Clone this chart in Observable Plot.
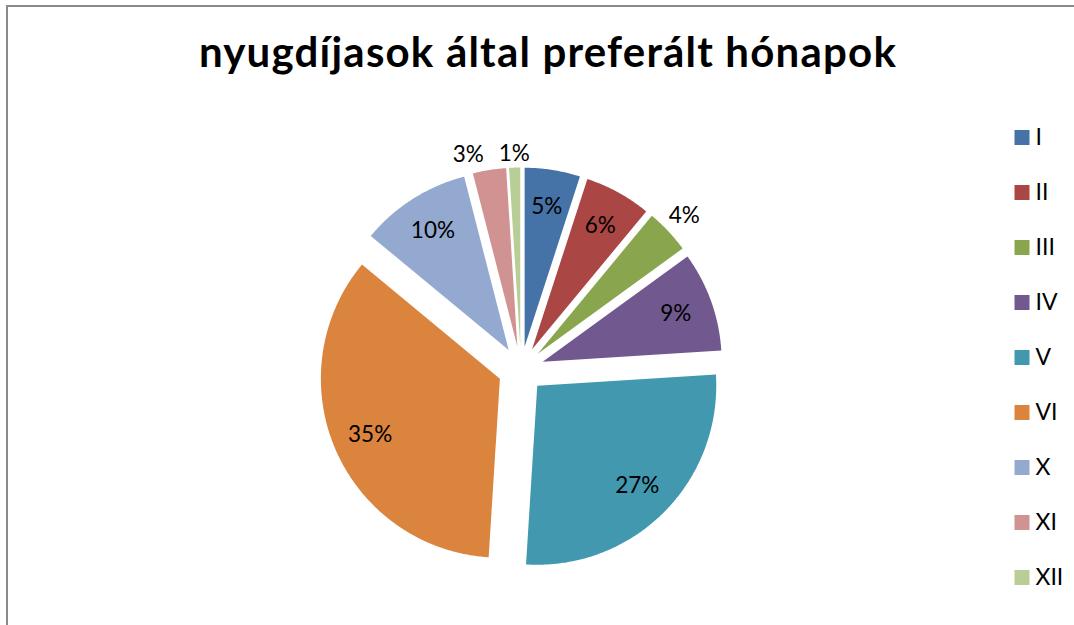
<!DOCTYPE html>
<html>
<head>
<meta charset="utf-8">
<script src="https://cdn.jsdelivr.net/npm/d3@7"></script>
<script src="https://cdn.jsdelivr.net/npm/@observablehq/plot@0.6"></script>
<style>
  html, body { margin: 0; padding: 0; background: #fff; width: 1074px; height: 625px; overflow: hidden; }
  #wrap { position: relative; width: 1074px; height: 625px; overflow: hidden; }
  #border { position: absolute; left: 6px; top: 5px; width: 1200px; height: 800px;
            border-left: 2px solid #898989; border-top: 2px solid #898989; box-sizing: border-box; }
  #title { position: absolute; left: 0; top: 30px; width: 1096px; text-align: center;
           font-family: Lato, "Open Sans", sans-serif; font-weight: bold; font-size: 42px; line-height: 42px;
           letter-spacing: 1.2px; color: #000; white-space: nowrap; }
  .layer { position: absolute; left: 0; top: 0; }
</style>
</head>
<body>
<div id="wrap">
  <div id="border"></div>
  <div id="title"></div>
  <div id="pie" class="layer"></div>
  <div id="legend" class="layer"></div>
</div>
<script>
// ---- data ----
const chartTitle = "nyugdíjasok által preferált hónapok";
const months = ["I", "II", "III", "IV", "V", "VI", "X", "XI", "XII"];
const shares = [5, 6, 4, 9, 27, 35, 10, 3, 1];
const colors = ["#4572A7", "#AA4643", "#89A54E", "#71588F", "#4198AF", "#DB843D", "#93A9CF", "#D19392", "#B9CD96"];

// ---- layout ----
const R = 179, CX = 520.5, CY = 369;       // pie radius and centre (px)
const EXPLODE = 23 / R;                     // explosion distance, in radius units
const INSIDE = 0.79;                        // inside label distance
const HW = 16, HH = 10.5, GAP = 3, SEP = 46; // outside label box (px)
const FONT = "Lato, 'Open Sans', sans-serif";

document.getElementById("title").textContent = chartTitle;

const rows = months.map((m, i) => ({month: m, share: shares[i]}));
const arcs = d3.pie().sort(null).value(d => d.share).startAngle(0).endAngle(2 * Math.PI)(rows);

// slice outlines (clockwise from 12 o'clock, y up)
const pts = [];
for (const a of arcs) {
  const mid = (a.startAngle + a.endAngle) / 2;
  const ox = EXPLODE * Math.sin(mid), oy = EXPLODE * Math.cos(mid);
  pts.push({month: a.data.month, x: ox, y: oy});
  const n = Math.max(2, Math.ceil((a.endAngle - a.startAngle) / (Math.PI / 360)));
  for (let k = 0; k <= n; k++) {
    const t = a.startAngle + (a.endAngle - a.startAngle) * k / n;
    pts.push({month: a.data.month, x: ox + Math.sin(t), y: oy + Math.cos(t)});
  }
}

// data labels
const labels = arcs.map(a => {
  const mid = (a.startAngle + a.endAngle) / 2;
  const s = Math.sin(mid), c = Math.cos(mid);
  const ox = EXPLODE * s, oy = EXPLODE * c;
  const inside = a.data.share >= 5;
  const dist = inside ? INSIDE : 1 + (HW * Math.abs(s) + HH * Math.abs(c) + GAP) / R;
  return {month: a.data.month, text: a.data.share + "%", x: ox + dist * s, y: oy + dist * c, inside, angle: mid};
});
// simple overlap resolution for outside labels
const outside = labels.filter(d => !d.inside).sort((a, b) => a.angle - b.angle);
for (let i = outside.length - 2; i >= 0; i--) {
  const a = outside[i], b = outside[i + 1];
  if (Math.abs(a.y - b.y) * R < 2 * HH && Math.abs(a.x - b.x) * R < SEP && a.angle > Math.PI) {
    a.x = b.x - SEP / R;
  }
}

const pie = Plot.plot({
  width: 1074, height: 625, margin: 0,
  style: {background: "transparent", fontFamily: FONT},
  x: {domain: [-1, 1], range: [CX - R, CX + R], axis: null},
  y: {domain: [-1, 1], range: [CY + R, CY - R], axis: null},
  color: {domain: months, range: colors},
  marks: [
    Plot.line(pts, {x: "x", y: "y", z: "month", fill: "month", stroke: "none", curve: "linear-closed"}),
    Plot.text(labels, {x: "x", y: "y", text: "text", fontSize: 22.5, fill: "#000", fontFamily: FONT})
  ]
});
document.getElementById("pie").appendChild(pie);

const legend = Plot.plot({
  width: 1074, height: 625, margin: 0,
  style: {background: "transparent", fontFamily: FONT},
  x: {domain: [0, 1], range: [1021.5, 1060], axis: null},
  y: {type: "point", domain: months, range: [135.8, 578], padding: 0, axis: null},
  color: {domain: months, range: colors},
  marks: [
    Plot.dot(months, {x: () => 0, y: d => d, fill: d => d, symbol: "square", r: 15 / Math.sqrt(Math.PI)}),
    Plot.text(months, {x: () => 0, y: d => d, text: d => d, dx: 13.5, textAnchor: "start", fontSize: 23, fill: "#000", fontFamily: FONT})
  ]
});
document.getElementById("legend").appendChild(legend);
</script>
</body>
</html>
